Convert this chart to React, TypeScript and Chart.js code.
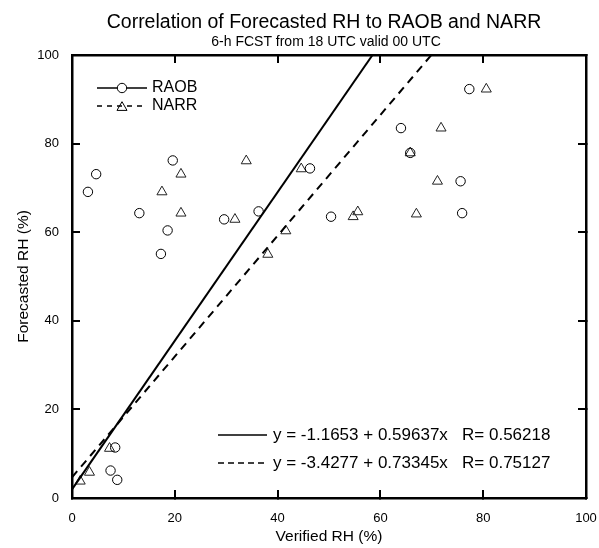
import React, { useEffect, useRef } from "react";
import { Chart, registerables } from "chart.js";

Chart.register(...registerables);

const FONT = "'Liberation Sans', Arial, Helvetica, sans-serif";

const TITLE = "Correlation of Forecasted RH to RAOB and NARR";
const SUBTITLE = "6-h FCST from 18 UTC valid 00 UTC";
const X_TITLE = "Verified RH (%)";
const Y_TITLE = "Forecasted RH (%)";
const SERIES_NAMES = ["RAOB", "NARR"];
const FIT_LABELS = [
  "y = -1.1653 + 0.59637x   R= 0.56218",
  "y = -3.4277 + 0.73345x   R= 0.75127",
];

const AXIS_MIN = 0;
const AXIS_MAX = 100;
const AXIS_STEP = 20;

// RAOB observations (circles)
const raobX = [4.7, 3.1, 19.6, 13.1, 18.6, 17.3, 29.6, 36.3, 46.3, 64.0, 65.8, 50.4, 77.3, 75.6, 75.9, 8.4, 7.5, 8.8];
const raobY = [73.1, 69.1, 76.2, 64.3, 60.4, 55.1, 62.9, 64.7, 74.4, 83.5, 77.9, 63.5, 92.3, 71.5, 64.3, 11.4, 6.2, 4.1];

// NARR observations (triangles)
const narrX = [21.2, 17.5, 21.2, 31.7, 33.9, 44.6, 65.8, 54.7, 55.6, 67.0, 41.6, 38.1, 80.6, 71.8, 71.1, 7.3, 3.4, 1.6];
const narrY = [73.1, 69.1, 64.3, 62.9, 76.1, 74.3, 77.9, 63.5, 64.6, 64.1, 60.3, 55.0, 92.3, 83.5, 71.5, 11.2, 5.8, 3.8];

// Fit lines (end points)
const raobFitX = [0, 58.47];
const raobFitY = [1.95, 100];
const narrFitX = [0, 69.92];
const narrFitY = [4.67, 100];

const toPoints = (xs: number[], ys: number[]) => xs.map((x, i) => ({ x, y: ys[i] }));

function drawCircle(ctx: CanvasRenderingContext2D, x: number, y: number, r: number) {
  ctx.beginPath();
  ctx.arc(x, y, r, 0, Math.PI * 2);
  ctx.stroke();
}

function drawTriangle(ctx: CanvasRenderingContext2D, x: number, y: number, r: number) {
  ctx.beginPath();
  for (let i = 0; i < 3; i++) {
    const a = (i * 2 * Math.PI) / 3;
    const px = x + Math.sin(a) * r;
    const py = y - Math.cos(a) * r;
    if (i === 0) ctx.moveTo(px, py);
    else ctx.lineTo(px, py);
  }
  ctx.closePath();
  ctx.stroke();
}

const overlayPlugin = {
  id: "overlay",
  afterDraw(chart: any) {
    const ctx: CanvasRenderingContext2D = chart.ctx;
    ctx.save();
    ctx.fillStyle = "#000";
    ctx.strokeStyle = "#000";
    ctx.textAlign = "center";
    ctx.textBaseline = "middle";
    ctx.font = `19.5px ${FONT}`;
    ctx.fillText(TITLE, 324, 23);
    ctx.font = `14px ${FONT}`;
    ctx.fillText(SUBTITLE, 326, 42);

    // top-left legend
    ctx.textAlign = "left";
    ctx.font = `16px ${FONT}`;
    ctx.lineWidth = 1.3;
    ctx.setLineDash([]);
    ctx.beginPath();
    ctx.moveTo(97, 88);
    ctx.lineTo(147, 88);
    ctx.stroke();
    ctx.lineWidth = 1;
    ctx.fillStyle = "#fff";
    ctx.beginPath();
    ctx.arc(122, 88, 4.7, 0, Math.PI * 2);
    ctx.fill();
    ctx.fillStyle = "#000";
    drawCircle(ctx, 122, 88, 4.7);
    ctx.fillText(SERIES_NAMES[0], 152, 88);

    ctx.lineWidth = 1.3;
    ctx.setLineDash([5, 5]);
    ctx.beginPath();
    ctx.moveTo(97, 106);
    ctx.lineTo(147, 106);
    ctx.stroke();
    ctx.setLineDash([]);
    ctx.lineWidth = 1;
    drawTriangle(ctx, 122, 107.5, 5.8);
    ctx.fillText(SERIES_NAMES[1], 152, 106);

    // fit legend bottom-right
    ctx.font = `17px ${FONT}`;
    ctx.lineWidth = 1.3;
    ctx.beginPath();
    ctx.moveTo(218, 435);
    ctx.lineTo(267, 435);
    ctx.stroke();
    ctx.fillText(FIT_LABELS[0], 273, 435);
    ctx.setLineDash([6, 4]);
    ctx.beginPath();
    ctx.moveTo(218, 463);
    ctx.lineTo(267, 463);
    ctx.stroke();
    ctx.setLineDash([]);
    ctx.fillText(FIT_LABELS[1], 273, 463);
    ctx.restore();
  },
};

const gridCfg = {
  drawOnChartArea: false,
  drawTicks: true,
  tickLength: -8,
  color: "#000",
  lineWidth: 2,
};
const borderCfg = { display: true, color: "#000", width: 2.5 };

const fixH = (h: number) => (s: any) => {
  s.height = h;
  s.paddingLeft = 0;
  s.paddingRight = 0;
};
const fixW = (w: number) => (s: any) => {
  s.width = w;
  s.paddingTop = 0;
  s.paddingBottom = 0;
};

export default function App() {
  const ref = useRef<HTMLCanvasElement | null>(null);

  useEffect(() => {
    document.body.style.margin = "0";
    if (!ref.current) return;
    const chart = new Chart(ref.current, {
      type: "scatter",
      data: {
        datasets: [
          {
            label: SERIES_NAMES[0] + " fit",
            data: toPoints(raobFitX, raobFitY),
            showLine: true,
            borderColor: "#000",
            borderWidth: 2,
            pointRadius: 0,
            xAxisID: "x",
            yAxisID: "y",
          },
          {
            label: SERIES_NAMES[1] + " fit",
            data: toPoints(narrFitX, narrFitY),
            showLine: true,
            borderColor: "#000",
            borderWidth: 2,
            borderDash: [8, 6],
            pointRadius: 0,
            xAxisID: "x",
            yAxisID: "y",
          },
          {
            label: SERIES_NAMES[0],
            data: toPoints(raobX, raobY),
            pointStyle: "circle",
            pointRadius: 4.7,
            borderColor: "#000",
            backgroundColor: "rgba(0,0,0,0)",
            borderWidth: 1,
            xAxisID: "x",
            yAxisID: "y",
          },
          {
            label: SERIES_NAMES[1],
            data: toPoints(narrX, narrY),
            pointStyle: "triangle",
            pointRadius: 5.8,
            borderColor: "#222",
            backgroundColor: "rgba(0,0,0,0)",
            borderWidth: 1,
            xAxisID: "x",
            yAxisID: "y",
          },
        ],
      },
      options: {
        animation: false,
        responsive: false,
        events: [],
        layout: { padding: { top: 55, right: 13, left: 0, bottom: 0 } },
        plugins: {
          legend: { display: false },
          tooltip: { enabled: false },
          title: { display: false },
        },
        scales: {
          x: {
            type: "linear",
            position: "bottom",
            min: AXIS_MIN,
            max: AXIS_MAX,
            ticks: { stepSize: AXIS_STEP, color: "#000", font: { family: FONT, size: 13 }, padding: 21 },
            grid: gridCfg,
            border: borderCfg,
            title: {
              display: true,
              text: X_TITLE,
              color: "#000",
              font: { family: FONT, size: 15.5 },
              padding: { top: 0, bottom: 2 },
            },
            afterFit: fixH(50),
          },
          x2: {
            type: "linear",
            position: "top",
            min: AXIS_MIN,
            max: AXIS_MAX,
            ticks: { stepSize: AXIS_STEP, display: false },
            grid: gridCfg,
            border: borderCfg,
            afterFit: fixH(0),
          },
          y: {
            type: "linear",
            position: "left",
            min: AXIS_MIN,
            max: AXIS_MAX,
            ticks: { stepSize: AXIS_STEP, color: "#000", font: { family: FONT, size: 13 }, padding: 21 },
            grid: gridCfg,
            border: borderCfg,
            title: {
              display: true,
              text: Y_TITLE,
              color: "#000",
              font: { family: FONT, size: 15.5 },
              padding: { top: 14, bottom: 0 },
            },
            afterFit: fixW(72),
          },
          y2: {
            type: "linear",
            position: "right",
            min: AXIS_MIN,
            max: AXIS_MAX,
            ticks: { stepSize: AXIS_STEP, display: false },
            grid: gridCfg,
            border: borderCfg,
            afterFit: fixW(0),
          },
        },
      },
      plugins: [overlayPlugin],
    } as any);
    return () => chart.destroy();
  }, []);

  return (
    <div style={{ width: 599, height: 548, background: "#fff" }}>
      <canvas ref={ref} width={599} height={548} style={{ width: 599, height: 548, display: "block" }} />
    </div>
  );
}
